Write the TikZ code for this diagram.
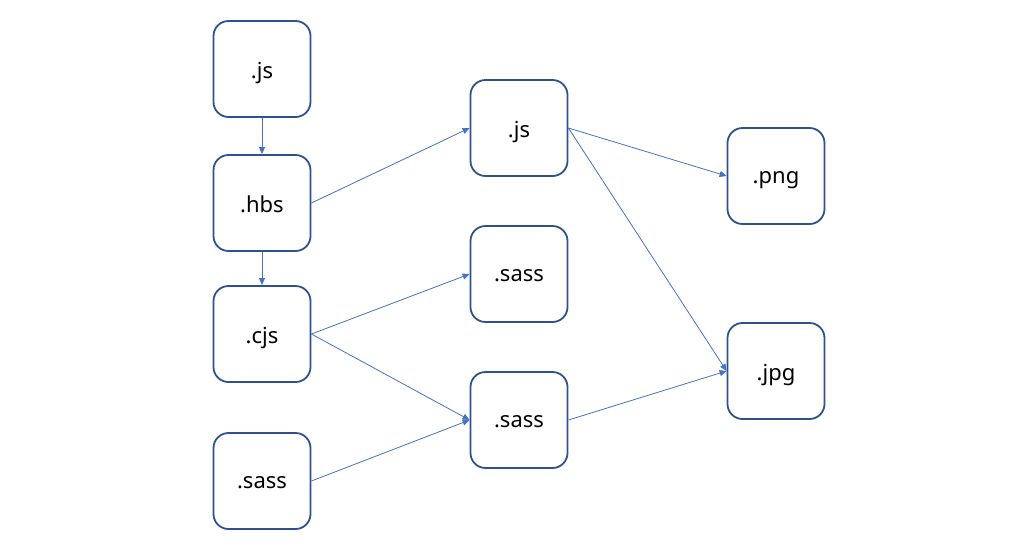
\documentclass[tikz,border=0pt]{standalone}
\usepackage{fontspec}
\setmainfont{Noto Sans}
\usetikzlibrary{arrows.meta}
\definecolor{boxline}{HTML}{2F528F}
\definecolor{edge}{HTML}{4472C4}
\begin{document}
\begin{tikzpicture}[x=1pt,y=-1pt,
  box/.style={draw=boxline,line width=1.8pt,rounded corners=15pt,minimum width=97pt,minimum height=96pt,inner sep=0pt,font=\fontsize{22}{26}\selectfont,fill=white,text depth=0pt},
  conn/.style={draw=edge,line width=0.8pt,-{Triangle[length=7pt,width=6pt]}}]
\useasboundingbox (0,0) rectangle (1014,550);
\node[box] (js1) at (262,69) {\raisebox{-3pt}{.js}};
\node[box] (hbs) at (262,203) {\raisebox{-3pt}{.hbs}};
\node[box] (cjs) at (262,334) {\raisebox{-3pt}{.cjs}};
\node[box] (sass1) at (262,481) {\raisebox{-3pt}{.sass}};
\node[box] (js2) at (519,128) {\raisebox{-3pt}{.js}};
\node[box] (sass2) at (519,274) {\raisebox{-3pt}{.sass}};
\node[box] (sass3) at (519,420) {\raisebox{-3pt}{.sass}};
\node[box] (png) at (776,176) {\raisebox{-3pt}{.png}};
\node[box] (jpg) at (776,371) {\raisebox{-3pt}{.jpg}};
\draw[conn] (js1.south) -- (hbs.north);
\draw[conn] (hbs.south) -- (cjs.north);
\draw[conn] (hbs.east) -- (js2.west);
\draw[conn] (cjs.east) -- (sass2.west);
\draw[conn] (cjs.east) -- (sass3.west);
\draw[conn] (sass1.east) -- (sass3.west);
\draw[conn] (js2.east) -- (png.west);
\draw[conn] (js2.east) -- (jpg.west);
\draw[conn] (sass3.east) -- (jpg.west);
\end{tikzpicture}
\end{document}
